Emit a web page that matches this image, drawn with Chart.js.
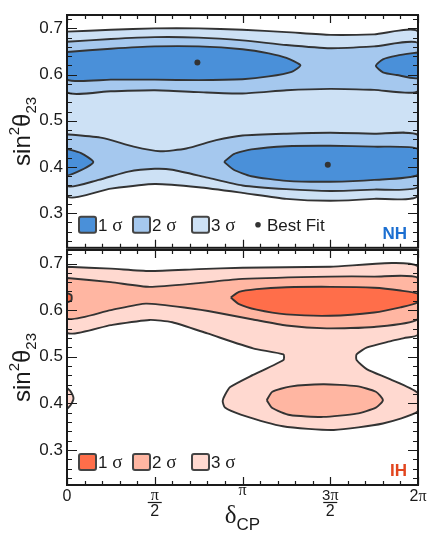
<!DOCTYPE html>
<html>
<head>
<meta charset="utf-8">
<script src="https://cdn.jsdelivr.net/npm/chart.js@4.4.1/dist/chart.umd.min.js"></script>
<style>
  body { margin: 0; background: #fff; }
  canvas { position: absolute; left: 0; }
</style>
</head>
<body>
<canvas id="nhChart" width="436" height="262" style="top:0px"></canvas>
<canvas id="ihChart" width="436" height="305" style="top:235px"></canvas>
<script>
// 축 범위 (x는 π 단위)
const xMin = 0, xMax = 2;
const yMin = 0.225, yMax = 0.729;
const xTickValues = [0, 0.5, 1, 1.5, 2];
const xTickNumerators = ["0", "π", "π", "3π", "2π"];
const xTickDenominators = ["", "2", "", "2", ""];
const sigmaNames = ["1", "2", "3"];
const bestFitLabel = "Best Fit";

// NH 등고선 (x: δCP/π, y: sin²θ23)
const nhBand3 = [[0,0.693],[0.25,0.697],[0.5,0.700],[0.75,0.700],[1.0,0.697],[1.25,0.692],[1.5,0.686],[1.75,0.687],[2,0.692],
  [2,0.339],[1.75,0.331],[1.5,0.327],[1.25,0.331],[1.0,0.344],[0.75,0.356],[0.5,0.363],[0.25,0.353],[0,0.338]];
const nhUpper2 = [[0,0.671],[0.25,0.677],[0.5,0.681],[0.75,0.680],[1.0,0.674],[1.25,0.664],[1.5,0.657],[1.75,0.661],[2,0.668],
  [2,0.564],[1.75,0.567],[1.5,0.569],[1.25,0.566],[1.0,0.559],[0.75,0.562],[0.5,0.566],[0.25,0.564],[0,0.562]];
const nhLower2 = [[0,0.471],[0.2,0.463],[0.38,0.444],[0.53,0.434],[0.68,0.440],[0.85,0.458],[1.0,0.468],[1.25,0.472],[1.5,0.474],[1.75,0.472],[2,0.469],
  [2,0.357],[1.75,0.351],[1.5,0.348],[1.25,0.352],[1.0,0.360],[0.8,0.377],[0.6,0.394],[0.5,0.396],[0.35,0.390],[0.18,0.372],[0,0.359]];
const nhUpper1Left = [[0,0.649],[0.25,0.656],[0.5,0.661],[0.75,0.661],[1.0,0.655],[1.15,0.646],[1.25,0.636],[1.33,0.620],[1.28,0.606],[1.15,0.596],[1.0,0.590],[0.75,0.588],[0.5,0.589],[0.25,0.589],[0,0.589]];
const nhUpper1Right = [[2,0.648],[1.88,0.641],[1.8,0.633],[1.76,0.619],[1.8,0.605],[1.88,0.599],[2,0.593]];
const nhLower1Left = [[0,0.439],[0.08,0.430],[0.15,0.411],[0.08,0.393],[0,0.383]];
const nhLower1Right = [[0.895,0.411],[0.95,0.428],[1.05,0.438],[1.25,0.445],[1.5,0.446],[1.75,0.444],[2,0.439],
  [2,0.383],[1.75,0.372],[1.5,0.368],[1.25,0.370],[1.05,0.380],[0.95,0.394]];
const nhBestFit = [[0.743,0.626],[1.486,0.405]];

// IH 등고선
const ihMain3 = [[0,0.693],[0.25,0.689],[0.47,0.684],[0.75,0.688],[1.0,0.691],[1.5,0.693],[2,0.694],
  [2,0.548],[1.92,0.540],[1.84,0.533],[1.71,0.520],[1.65,0.505],[1.65,0.493],[1.71,0.473],[1.84,0.452],[2,0.422],
  [2,0.383],[1.8,0.357],[1.52,0.343],[1.23,0.351],[0.99,0.376],[0.90,0.391],[0.887,0.405],[0.90,0.418],[0.93,0.435],[1.06,0.461],[1.233,0.493],
  [1.233,0.505],[1.06,0.518],[0.80,0.550],[0.6,0.574],[0.47,0.579],[0.25,0.568],[0,0.552]];
const ihEdge3 = [[0,0.433],[0.02,0.426],[0.037,0.411],[0.02,0.396],[0,0.389]];
const ihUpper2 = [[0,0.669],[0.25,0.660],[0.47,0.650],[0.75,0.658],[1.0,0.667],[1.5,0.672],[1.75,0.672],[2,0.669],
  [2,0.581],[1.75,0.564],[1.48,0.561],[1.25,0.567],[1.06,0.580],[0.85,0.595],[0.70,0.604],[0.45,0.614],[0.25,0.600],[0,0.582]];
const ihLower2 = [[1.138,0.407],[1.17,0.425],[1.27,0.436],[1.46,0.441],[1.65,0.437],[1.76,0.425],[1.80,0.407],[1.76,0.391],[1.65,0.378],[1.46,0.371],[1.27,0.375],[1.17,0.390]];
const ihUpper1 = [[0.933,0.627],[0.98,0.639],[1.08,0.645],[1.25,0.649],[1.5,0.650],[1.75,0.648],[1.9,0.642],[2,0.635],
  [2,0.617],[1.9,0.606],[1.75,0.595],[1.5,0.588],[1.25,0.591],[1.08,0.601],[0.98,0.613]];
const ihEdge1 = [[0,0.637],[0.025,0.632],[0.025,0.621],[0,0.617]];

const nhColors = ["#4a90d9", "#a5c8ee", "#cde1f5"];
const ihColors = ["#ff6e4a", "#ffb6a2", "#ffd9d0"];

const SANS = '"Liberation Sans", Arial, Helvetica, sans-serif';
const SERIF = '"Liberation Serif", "Times New Roman", serif';
const LINE = "#333";

// [x,y] 목록을 닫힌 점 목록으로 변환
function closedPoints(arr) {
  const pts = arr.map(([x, y]) => ({ x, y }));
  pts.push({ x: arr[0][0], y: arr[0][1] });
  return pts;
}

function contour(arr, color, order) {
  return {
    data: closedPoints(arr),
    showLine: true,
    fill: "shape",
    backgroundColor: color,
    borderColor: LINE,
    borderWidth: 1.9,
    pointRadius: 0,
    pointHoverRadius: 0,
    tension: 0.2,
    order: order,
  };
}

// 글꼴이 섞인 텍스트 (숫자는 sans, π/σ/δ는 serif)
function drawParts(ctx, parts, x, y, align) {
  let total = 0;
  parts.forEach((p) => {
    ctx.font = (p.bold ? "bold " : "") + p.size + "px " + (p.family || SANS);
    p.w = ctx.measureText(p.text).width;
    total += p.w;
  });
  let cx = align === "center" ? x - total / 2 : align === "right" ? x - total : x;
  parts.forEach((p) => {
    ctx.font = (p.bold ? "bold " : "") + p.size + "px " + (p.family || SANS);
    ctx.fillText(p.text, cx, y + (p.dy || 0));
    cx += p.w;
  });
}

function mixedParts(text, size, piSize) {
  return text.split("").map((ch) =>
    ch === "π" ? { text: ch, size: piSize, family: SERIF } : { text: ch, size: size }
  );
}

const decorPlugin = {
  id: "decor",
  afterDraw(chart, args, opts) {
    const { ctx, chartArea: a, scales } = chart;
    const xs = scales.x, ys = scales.y;
    ctx.save();
    ctx.strokeStyle = "#1a1a1a";
    ctx.fillStyle = "#1a1a1a";

    // 안쪽 눈금
    ctx.lineWidth = 1.2;
    ctx.beginPath();
    for (let i = 0; i <= 20; i++) {
      const px = Math.round(xs.getPixelForValue(i / 10)) + 0.5;
      const len = i % 5 === 0 ? 8 : 4;
      ctx.moveTo(px, a.bottom); ctx.lineTo(px, a.bottom - len);
      ctx.moveTo(px, a.top); ctx.lineTo(px, a.top + len);
    }
    for (let i = 12; i <= 36; i++) {
      const py = Math.round(ys.getPixelForValue(i / 50)) + 0.5;
      const len = i % 5 === 0 ? 10 : 5;
      ctx.moveTo(a.left, py); ctx.lineTo(a.left + len, py);
      ctx.moveTo(a.right, py); ctx.lineTo(a.right - len, py);
    }
    ctx.stroke();

    // 테두리
    ctx.lineWidth = 2;
    ctx.strokeRect(a.left, a.top, a.right - a.left, a.bottom - a.top);

    // y축 제목
    ctx.textBaseline = "alphabetic";
    ctx.save();
    ctx.translate(30, (a.top + a.bottom) / 2);
    ctx.rotate(-Math.PI / 2);
    drawParts(ctx, [
      { text: "sin", size: 24 },
      { text: "2", size: 15, dy: -11 },
      { text: "θ", size: 24 },
      { text: "23", size: 15, dy: 6 },
    ], 0, 0, "center");
    ctx.restore();

    // 범례
    const ly = a.bottom - 23;
    const boxX = [12, 66, 125];
    opts.colors.forEach((c, i) => {
      const bx = a.left + boxX[i];
      ctx.beginPath();
      ctx.roundRect(bx, ly - 8, 17, 16, 2);
      ctx.fillStyle = c;
      ctx.fill();
      ctx.lineWidth = 2;
      ctx.strokeStyle = "#444";
      ctx.stroke();
      ctx.fillStyle = "#1a1a1a";
      drawParts(ctx, [
        { text: sigmaNames[i], size: 17 },
        { text: " σ", size: 19, family: SERIF },
      ], bx + 19, a.bottom - 17, "left");
    });
    if (opts.bestFit) {
      ctx.beginPath();
      ctx.arc(a.left + 191, ly, 2.8, 0, Math.PI * 2);
      ctx.fillStyle = LINE;
      ctx.fill();
      ctx.fillStyle = "#1a1a1a";
      drawParts(ctx, [{ text: bestFitLabel, size: 17 }], a.left + 200, a.bottom - 17, "left");
    }

    // NH / IH 표시
    ctx.fillStyle = opts.tagColor;
    drawParts(ctx, [{ text: opts.tag, size: 17, bold: true }], a.right - 11, a.bottom - 9, "right");

    // x축 눈금 라벨과 제목
    if (opts.xLabels) {
      ctx.fillStyle = "#1a1a1a";
      ctx.strokeStyle = "#1a1a1a";
      xTickValues.forEach((v, i) => {
        const px = xs.getPixelForValue(v);
        const num = xTickNumerators[i];
        const den = xTickDenominators[i];
        if (den) {
          drawParts(ctx, mixedParts(num, 15, 16), px, a.bottom + 15, "center");
          ctx.lineWidth = 1.2;
          ctx.beginPath();
          ctx.moveTo(px - 7, a.bottom + 17.5);
          ctx.lineTo(px + 7, a.bottom + 17.5);
          ctx.stroke();
          drawParts(ctx, mixedParts(den, 16, 16), px, a.bottom + 31, "center");
        } else if (num === "π") {
          drawParts(ctx, mixedParts(num, 15, 16), px, a.bottom + 10, "center");
        } else {
          drawParts(ctx, mixedParts(num, 16, 16), px, a.bottom + 16, "center");
        }
      });
      drawParts(ctx, [
        { text: "δ", size: 25, family: SERIF },
        { text: "CP", size: 17, dy: 7 },
      ], (a.left + a.right) / 2, a.bottom + 38, "center");
    }
    ctx.restore();
  },
};

function makePanel(canvasId, datasets, padding, decor) {
  const ctx = document.getElementById(canvasId).getContext("2d");
  return new Chart(ctx, {
    type: "scatter",
    data: { datasets: datasets },
    options: {
      responsive: false,
      animation: false,
      devicePixelRatio: 1,
      layout: { padding: padding },
      plugins: {
        legend: { display: false },
        tooltip: { enabled: false },
        decor: decor,
      },
      scales: {
        x: { type: "linear", min: xMin, max: xMax, display: false },
        y: {
          type: "linear",
          min: yMin,
          max: yMax,
          grid: { display: false, drawTicks: false },
          border: { display: false },
          ticks: {
            stepSize: 0.1,
            includeBounds: false,
            padding: 4,
            color: "#1a1a1a",
            font: { family: SANS, size: 17 },
            callback: (v) => v.toFixed(1),
          },
          afterFit: (s) => { s.width = 67; },
        },
      },
    },
    plugins: [decorPlugin],
  });
}

window.onload = function () {
  const nhSets = [
    { data: closedPoints(nhBestFit).slice(0, 2), pointRadius: 3, pointBackgroundColor: LINE, pointBorderWidth: 0, showLine: false, order: 0 },
    contour(nhUpper1Left, nhColors[0], 1),
    contour(nhUpper1Right, nhColors[0], 1),
    contour(nhLower1Left, nhColors[0], 1),
    contour(nhLower1Right, nhColors[0], 1),
    contour(nhUpper2, nhColors[1], 2),
    contour(nhLower2, nhColors[1], 2),
    contour(nhBand3, nhColors[2], 3),
  ];
  const ihSets = [
    contour(ihUpper1, ihColors[0], 1),
    contour(ihEdge1, ihColors[0], 1),
    contour(ihUpper2, ihColors[1], 2),
    contour(ihLower2, ihColors[1], 2),
    contour(ihMain3, ihColors[2], 3),
    contour(ihEdge3, ihColors[2], 3),
  ];
  makePanel("nhChart", nhSets, { left: 0, right: 18, top: 15, bottom: 12 },
    { colors: nhColors, bestFit: true, tag: "NH", tagColor: "#1c6fd1", xLabels: false });
  makePanel("ihChart", ihSets, { left: 0, right: 18, top: 15, bottom: 55 },
    { colors: ihColors, bestFit: false, tag: "IH", tagColor: "#e2451e", xLabels: true });
};
</script>
</body>
</html>
